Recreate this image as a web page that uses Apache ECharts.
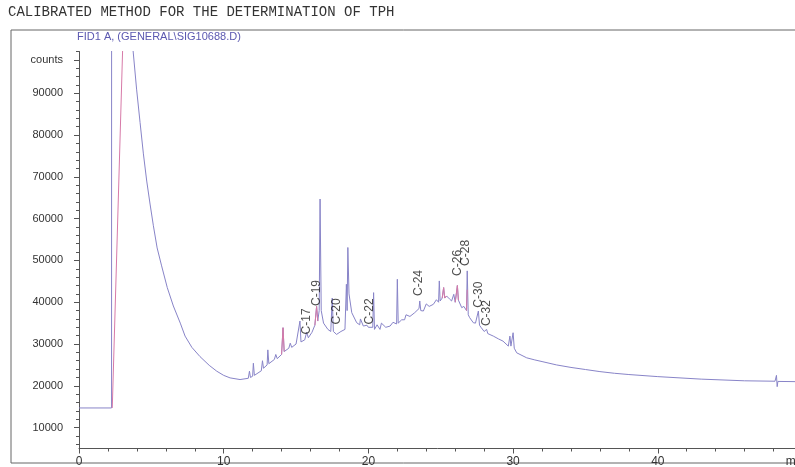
<!DOCTYPE html>
<html>
<head>
<meta charset="utf-8">
<script src="https://cdn.jsdelivr.net/npm/echarts@6/dist/echarts.min.js"></script>
<style>
html,body{margin:0;padding:0;background:#fff;}
#chart{width:795px;height:467px;}
</style>
</head>
<body>
<div id="chart"></div>
<script>
// ---- data (retention time in min, detector counts) ----
const titleText = 'CALIBRATED METHOD FOR THE DETERMINATION OF TPH';
const signalName = 'FID1 A, (GENERAL\\SIG10688.D)';

const times = [0, 2.25, 2.26, 3.7, 3.73, 3.98, 4.22, 4.45, 4.68, 4.91, 5.14, 5.4, 5.71, 6.1, 6.52, 7.0, 7.33, 7.8, 8.36, 9.0, 9.52, 10.0, 10.44, 11.13,
  11.7, 11.78, 11.85, 12.0, 12.05, 12.12, 12.6, 12.68, 12.75, 13.0, 13.05, 13.12, 13.5, 13.6, 13.7, 14.0, 14.1, 14.18, 14.5, 14.6, 14.7,
  15.0, 15.27, 15.34, 15.6, 15.73, 15.85, 16.1, 16.3, 16.42, 16.5, 16.6, 16.66, 16.74, 16.9, 17.2, 17.4, 17.5, 17.58, 17.8, 18.1, 18.38,
  18.48, 18.53, 18.58, 18.66, 18.85, 19.19, 19.4, 19.45, 19.65, 19.9, 20.0, 20.3, 20.36, 20.42, 20.6, 20.8, 20.9, 21.2, 21.5, 21.7, 21.95, 22.0, 22.06, 22.3, 22.5, 22.6, 22.87, 23.2,
  23.5, 23.55, 23.62, 23.8, 24.0, 24.2, 24.49, 24.7, 24.85, 24.9, 24.96, 25.1, 25.2, 25.27, 25.4, 25.6, 25.75, 25.9, 26.0, 26.15, 26.22, 26.45, 26.6,
  26.78, 26.83, 26.9, 27.0, 27.25, 27.4, 27.6, 27.68, 27.8, 28.0, 28.17, 28.25, 28.63, 29.0, 29.3, 29.67, 29.78, 29.85, 30.0, 30.08,
  30.25, 30.94, 31.5, 32, 33, 34, 35, 36, 37, 38, 40, 43, 46, 48.1, 48.2, 48.25, 48.3, 49.5, 50];
const counts = [14700, 14700, 300000, 300000, 100500, 91000, 83000, 75500, 69000, 63500, 58300, 53000, 48700, 43500, 39100, 35000, 31900, 29200, 27000, 24900, 23500, 22500, 21900, 21500,
  21800, 23500, 22000, 22300, 25400, 22500, 23600, 26000, 24200, 25000, 28600, 25300, 26300, 27500, 26500, 27500, 33900, 28200, 29000, 30200, 29200,
  30000, 35500, 30500, 31000, 32800, 31500, 32800, 34500, 39000, 35500, 38000, 64700, 38000, 35000, 33500, 33000, 41000, 33000, 32300, 33000, 33500,
  44300, 38000, 53100, 42000, 37500, 35100, 34600, 36000, 34300, 34500, 34000, 34000, 42300, 33500, 34600, 33500, 35000, 34000, 34300, 35200, 34800, 45500, 35000, 35800, 35800, 37000, 36600, 37500,
  38500, 40300, 38000, 37900, 39600, 39000, 39500, 40600, 40000, 45100, 40300, 41000, 43500, 41000, 41500, 40800, 40300, 41900, 40000, 44000, 40500, 38700, 39000,
  38000, 47500, 37000, 36300, 35100, 35000, 37900, 34500, 33900, 33000, 33500, 32500, 31900, 31200, 30700, 29500, 31900, 29500, 32700, 29000,
  27900, 26700, 26200, 25800, 25000, 24400, 23900, 23400, 23000, 22700, 22200, 21600, 21200, 21100, 22500, 19800, 21050, 21000, 21000];

// overlaid (pink) trace segments; null separates segments
const pinkTimes = [2.3, 3.02, null, 14.0, 14.1, 14.18, null, 16.3, 16.42, 16.5, null, 25.1, 25.2, 25.27, 25.4, null, 26.0, 26.15, 26.22, null, 26.78, 26.83];
const pinkCounts = [14700, 101000, null, 27500, 33900, 28200, null, 34500, 39000, 35500, null, 41000, 43500, 41000, 41500, null, 40000, 44000, 40500, null, 38000, 43000];

// peak annotations
const peakNames = ['C-17', 'C-19', 'C-20', 'C-22', 'C-24', 'C-26', 'C-28', 'C-30', 'C-32'];
const peakTimes = [15.73, 16.4, 17.83, 20.1, 23.5, 26.15, 26.75, 27.62, 28.2];
const peakLabelBase = [32300, 39100, 34700, 34700, 41500, 46300, 48700, 38700, 34300];

// axis ticks
const yLabelValues = [10000, 20000, 30000, 40000, 50000, 60000, 70000, 80000, 90000, 98000];
const yMinorValues = [6000, 8000, 12000, 14000, 16000, 18000, 22000, 24000, 26000, 28000, 32000, 34000, 36000, 38000, 42000, 44000, 46000, 48000,
  52000, 54000, 56000, 58000, 62000, 64000, 66000, 68000, 72000, 74000, 76000, 78000, 82000, 84000, 86000, 88000, 92000, 94000, 96000, 100000];
const xLabelValues = [0, 10, 20, 30, 40, 50];
const xMinorValues = [2, 4, 6, 8, 12, 14, 16, 18, 22, 24, 26, 28, 32, 34, 36, 38, 42, 44, 46, 48];

// ---- build ----
const mainData = times.map((t, i) => [t, counts[i]]);
const pinkData = pinkTimes.map((t, i) => t === null ? ['-', '-'] : [t, pinkCounts[i]]);
const peakData = peakTimes.map((t, i) => ({ value: [t, peakLabelBase[i]], name: peakNames[i] }));

const chart = echarts.init(document.getElementById('chart'), null, { renderer: 'canvas' });
const axisColor = '#555';
const labelColor = '#333';
const font = 'Liberation Sans, Arial, sans-serif';

chart.setOption({
  animation: false,
  backgroundColor: '#fff',
  grid: { left: 79, width: 723.5, top: 51.5, height: 397, outerBoundsMode: 'none', containLabel: false },
  xAxis: [
    {
      type: 'value', min: 0, max: 50,
      axisLine: { show: true, lineStyle: { color: axisColor, width: 1 } },
      axisTick: { show: true, customValues: xLabelValues, length: 5, lineStyle: { color: axisColor } },
      axisLabel: { customValues: xLabelValues, color: labelColor, fontSize: 12, fontFamily: font, margin: 7,
        formatter: v => v === 50 ? '{u|min}' : String(v),
        rich: { u: { color: labelColor, fontSize: 12, fontFamily: font, padding: [0, 14, 0, 0] } } },
      splitLine: { show: false }
    },
    {
      type: 'value', min: 0, max: 50, position: 'bottom',
      axisLine: { show: false },
      axisTick: { show: true, customValues: xMinorValues, length: 3, lineStyle: { color: axisColor } },
      axisLabel: { show: false },
      splitLine: { show: false }
    }
  ],
  yAxis: [
    {
      type: 'value', min: 5000, max: 100000, offset: 6,
      axisLine: { show: true, lineStyle: { color: axisColor, width: 1 } },
      axisTick: { show: true, customValues: yLabelValues, length: 5, lineStyle: { color: axisColor } },
      axisLabel: { customValues: yLabelValues, color: labelColor, fontSize: 11, fontFamily: font, margin: 10,
        formatter: v => v === 98000 ? 'counts' : String(v) },
      splitLine: { show: false }
    },
    {
      type: 'value', min: 5000, max: 100000, offset: 6, position: 'left',
      axisLine: { show: false },
      axisTick: { show: true, customValues: yMinorValues, length: 3, lineStyle: { color: axisColor } },
      axisLabel: { show: false },
      splitLine: { show: false }
    }
  ],
  series: [
    {
      type: 'line', data: mainData, showSymbol: false, symbol: 'none',
      lineStyle: { color: '#8884c8', width: 1 }, clip: true, z: 3
    },
    {
      type: 'line', data: pinkData, showSymbol: false, symbol: 'none', connectNulls: false,
      lineStyle: { color: '#d77aa8', width: 1 }, clip: true, z: 4
    },
    {
      type: 'scatter', data: peakData, symbolSize: 0, z: 5,
      label: {
        show: true, position: 'top', distance: 0, rotate: 90, align: 'left', verticalAlign: 'middle',
        formatter: p => p.name, color: '#222', fontSize: 12, fontFamily: font
      }
    }
  ],
  graphic: [
    { type: 'rect', shape: { x: 11, y: 30, width: 800, height: 433 }, style: { fill: 'none', stroke: '#666', lineWidth: 1 }, silent: true },
    { type: 'text', left: 8, top: 5, style: { text: titleText, fill: '#333', font: '14px "Liberation Mono", "DejaVu Sans Mono", monospace' } },
    { type: 'text', left: 77, top: 31, style: { text: signalName, fill: '#5b58b0', font: '11px "Liberation Sans", Arial, sans-serif' } }
  ]
});
</script>
</body>
</html>
